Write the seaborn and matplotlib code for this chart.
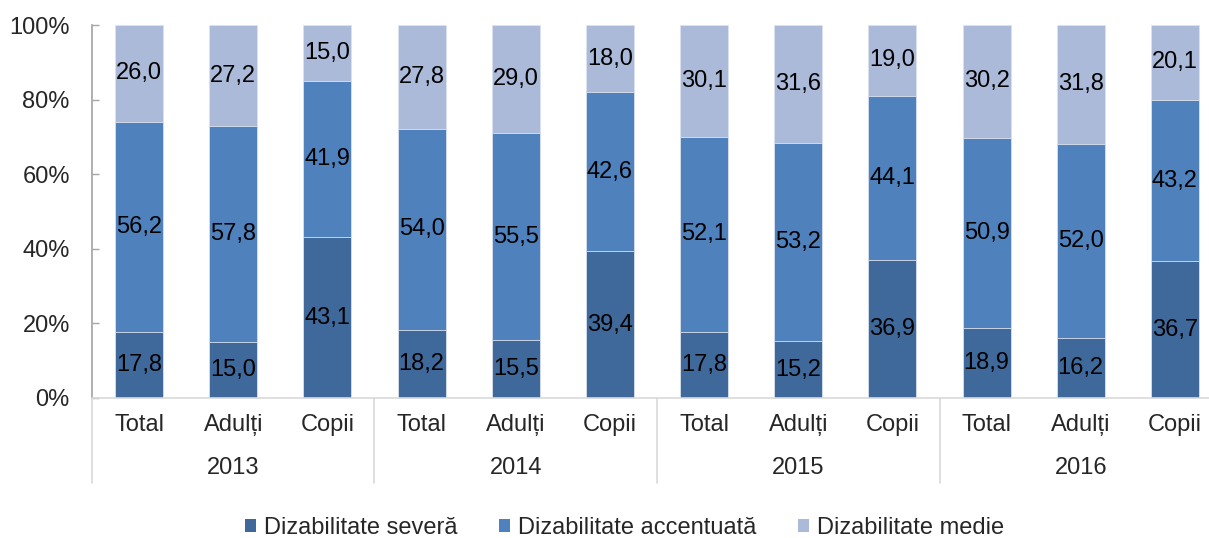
import numpy as np
import pandas as pd
import seaborn as sns
import matplotlib.pyplot as plt
from matplotlib.patches import Patch
from matplotlib.ticker import PercentFormatter

years = ["2013", "2014", "2015", "2016"]
groups = ["Total", "Adulți", "Copii"]
severa = [17.8, 15.0, 43.1, 18.2, 15.5, 39.4, 17.8, 15.2, 36.9, 18.9, 16.2, 36.7]
accentuata = [56.2, 57.8, 41.9, 54.0, 55.5, 42.6, 52.1, 53.2, 44.1, 50.9, 52.0, 43.2]
medie = [26.0, 27.2, 15.0, 27.8, 29.0, 18.0, 30.1, 31.6, 19.0, 30.2, 31.8, 20.1]
series_names = ["Dizabilitate severă", "Dizabilitate accentuată", "Dizabilitate medie"]
colors = ["#40699B", "#4F81BD", "#AABAD8"]

keys = [f"{y} {g}" for y in years for g in groups]
df = pd.DataFrame({"key": keys, "severa": severa, "accentuata": accentuata, "medie": medie})
df["c1"] = df["severa"]
df["c2"] = df["severa"] + df["accentuata"]
df["c3"] = df["c2"] + df["medie"]

sns.set_theme(style="white")
plt.rcParams["font.family"] = ["Liberation Sans", "DejaVu Sans"]
fs = 17

fig = plt.figure(figsize=(12.09, 5.38), dpi=100)
ax = fig.add_axes([92 / 1209, 140 / 538, 1130 / 1209, 373 / 538])

# draw stacked bars as overlapping cumulative bars
for col, color in zip(["c3", "c2", "c1"], colors[::-1]):
    sns.barplot(data=df, x="key", y=col, order=keys, color=color, width=0.51,
                edgecolor="#DCE3EF", linewidth=0.6, ax=ax, saturation=1)

# value labels centered in each segment
for i in range(len(keys)):
    lower = 0
    for vals in (severa, accentuata, medie):
        v = vals[i]
        ax.text(i, lower + v / 2, f"{v:.1f}".replace(".", ","), ha="center", va="center",
                fontsize=fs, color="black")
        lower += v

ax.set_xlim(-0.5, len(keys) - 0.5)
ax.set_ylim(0, 100)
ax.set_yticks(np.arange(0, 101, 20))
ax.yaxis.set_major_formatter(PercentFormatter(decimals=0))
ax.tick_params(axis="y", labelsize=fs, length=5, width=1, color="#A6A6A6", left=True,
               direction="in", pad=16)
ax.set_xticks([])
ax.set_xlabel("")
ax.set_ylabel("")

for side in ["top", "right"]:
    ax.spines[side].set_visible(False)
ax.spines["left"].set_color("#A6A6A6")
ax.spines["bottom"].set_color("#D9D9D9")
ax.spines["bottom"].set_linewidth(1.2)

trans = ax.get_xaxis_transform()
for i, key in enumerate(keys):
    ax.text(i, -27 / 373, groups[i % 3], transform=trans, ha="center", va="center", fontsize=fs)
for j, y in enumerate(years):
    ax.text(j * 3 + 1, -70 / 373, y, transform=trans, ha="center", va="center", fontsize=fs)
for b in np.arange(-0.5, len(keys), 3):
    ax.plot([b, b], [0, -85 / 373], transform=trans, color="#D9D9D9", lw=1.2, clip_on=False)

handles = [Patch(facecolor=c, edgecolor="none") for c in colors]
fig.legend(handles, series_names, loc="center", bbox_to_anchor=(0.5 + 20 / 1209, 10 / 538),
           ncol=3, frameon=False, fontsize=fs, handlelength=0.45, handleheight=0.45,
           handletextpad=0.35, columnspacing=1.77, borderpad=0)

fig.savefig("out.png", dpi=100)
